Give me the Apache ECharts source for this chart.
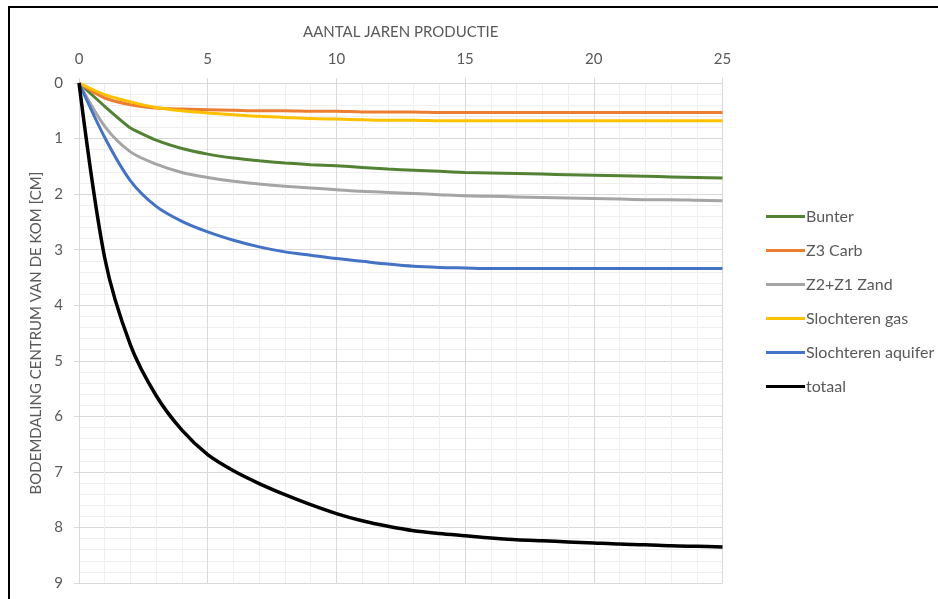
<!DOCTYPE html>
<html>
<head>
<meta charset="utf-8">
<script src="https://cdn.jsdelivr.net/npm/echarts@6/dist/echarts.min.js"></script>
<style>
html,body{margin:0;padding:0;background:#fff;}
#chart{width:938px;height:599px;}
</style>
</head>
<body>
<div id="chart"></div>
<script>
const years = [0,1,2,3,4,5,6,7,8,9,10,11,12,13,14,15,16,17,18,19,20,21,22,23,24,25];
const bunter = [0,0.42,0.81,1.03,1.18,1.28,1.35,1.40,1.44,1.47,1.49,1.52,1.55,1.57,1.59,1.61,1.62,1.63,1.64,1.65,1.66,1.67,1.68,1.69,1.70,1.71];
const z3carb = [0,0.27,0.39,0.45,0.47,0.48,0.49,0.50,0.50,0.51,0.51,0.52,0.52,0.52,0.53,0.53,0.53,0.53,0.53,0.53,0.53,0.53,0.53,0.53,0.53,0.53];
const z2z1zand = [0,0.78,1.24,1.46,1.61,1.70,1.77,1.82,1.86,1.89,1.92,1.95,1.97,1.99,2.01,2.03,2.04,2.05,2.06,2.07,2.08,2.09,2.10,2.10,2.11,2.12];
const slochterenGas = [0,0.21,0.34,0.44,0.50,0.54,0.57,0.60,0.62,0.64,0.65,0.66,0.67,0.67,0.68,0.68,0.68,0.68,0.68,0.68,0.68,0.68,0.68,0.68,0.68,0.68];
const slochterenAquifer = [0,0.98,1.76,2.22,2.49,2.68,2.83,2.95,3.04,3.10,3.16,3.21,3.26,3.30,3.32,3.33,3.34,3.34,3.34,3.34,3.34,3.34,3.34,3.34,3.34,3.34];
const totaal = [0,3.15,4.72,5.63,6.25,6.69,6.98,7.21,7.41,7.59,7.75,7.88,7.98,8.06,8.11,8.15,8.19,8.22,8.24,8.26,8.28,8.30,8.31,8.33,8.34,8.35];

const seriesNames = ['Bunter','Z3 Carb','Z2+Z1 Zand','Slochteren gas','Slochteren aquifer','totaal'];
const seriesValues = [bunter, z3carb, z2z1zand, slochterenGas, slochterenAquifer, totaal];
const seriesColors = ['#548235','#ed7d31','#a5a5a5','#ffc000','#4472c4','#000000'];
const seriesSmooth = [0.15, 0.3, 0.3, 0.3, 0.3, 0.3];

const font = 'Lato, "Open Sans", sans-serif';
const chart = echarts.init(document.getElementById('chart'));
chart.setOption({
  animation: false,
  backgroundColor: '#ffffff',
  graphic: [{
    type: 'rect',
    shape: {x: 9, y: 7, width: 1000, height: 1000},
    style: {fill: 'none', stroke: '#000', lineWidth: 2},
    silent: true
  }],
  grid: {left: 79, right: 215.5, top: 83, bottom: 16},
  legend: {
    orient: 'vertical',
    left: 761,
    top: 203,
    icon: 'rect',
    itemWidth: 39,
    itemHeight: 3,
    itemGap: 17,
    data: seriesNames,
    textStyle: {color: '#595959', fontSize: 16, fontFamily: font, lineHeight: 17, padding: [0,0,0,-4]}
  },
  xAxis: {
    type: 'value',
    position: 'top',
    min: 0, max: 25, interval: 5,
    name: 'AANTAL JAREN PRODUCTIE',
    nameLocation: 'middle',
    nameGap: 43,
    nameTextStyle: {color: '#595959', fontSize: 15, fontFamily: font},
    axisLine: {show: true, lineStyle: {color: '#d9d9d9'}},
    axisTick: {show: true, length: 5, lineStyle: {color: '#d9d9d9'}},
    axisLabel: {color: '#595959', fontSize: 15, fontFamily: font, margin: 16},
    splitLine: {show: true, lineStyle: {color: '#d9d9d9'}},
    minorTick: {show: false, splitNumber: 5},
    minorSplitLine: {show: true, lineStyle: {color: '#efefef'}}
  },
  yAxis: {
    type: 'value',
    inverse: true,
    min: 0, max: 9, interval: 1,
    name: 'BODEMDALING CENTRUM VAN DE KOM [CM]',
    nameLocation: 'middle',
    nameGap: 33,
    nameRotate: 90,
    nameTextStyle: {color: '#595959', fontSize: 15, fontFamily: font},
    axisLine: {show: true, lineStyle: {color: '#d9d9d9'}},
    axisTick: {show: true, length: 5, lineStyle: {color: '#d9d9d9'}},
    axisLabel: {color: '#595959', fontSize: 15, fontFamily: font, margin: 16},
    splitLine: {show: true, lineStyle: {color: '#d9d9d9'}},
    minorTick: {show: false, splitNumber: 5},
    minorSplitLine: {show: true, lineStyle: {color: '#efefef'}}
  },
  series: seriesNames.map((name, i) => ({
    name: name,
    type: 'line',
    data: years.map((y, j) => [y, seriesValues[i][j]]),
    smooth: seriesSmooth[i],
    symbol: 'none',
    showSymbol: false,
    color: seriesColors[i],
    lineStyle: {color: seriesColors[i], width: i === 5 ? 3.5 : 3}
  }))
});
</script>
</body>
</html>
